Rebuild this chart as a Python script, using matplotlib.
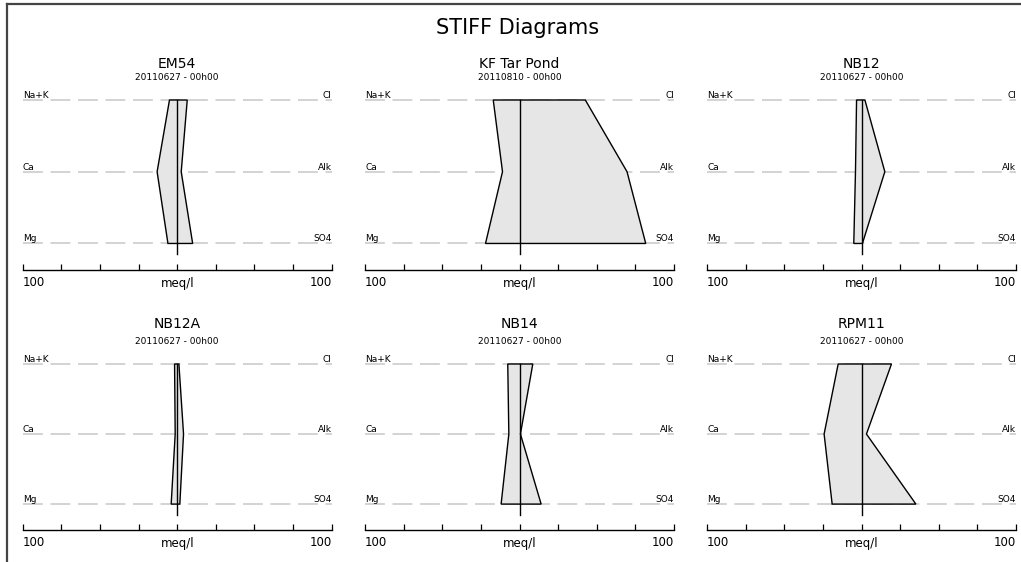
import matplotlib
matplotlib.use("Agg")
import matplotlib.pyplot as plt
from matplotlib.lines import Line2D
import numpy as np

# sample sites, sampling date and major ions (meq/l)
sites = ['EM54', 'KF Tar Pond', 'NB12', 'NB12A', 'NB14', 'RPM11']
dates = ['20110627 - 00h00', '20110810 - 00h00', '20110627 - 00h00',
         '20110627 - 00h00', '20110627 - 00h00', '20110627 - 00h00']
cation_names = ['Na+K', 'Ca', 'Mg']
anion_names = ['Cl', 'Alk', 'SO4']
cations = [[5.0, 13.0, 6.0],
           [17.0, 11.0, 22.0],
           [3.2, 3.9, 5.0],
           [1.7, 1.3, 3.9],
           [7.6, 6.9, 11.9],
           [15.1, 24.2, 19.0]]
anions = [[6.5, 2.6, 10.0],
          [42.6, 69.6, 81.7],
          [2.2, 15.1, 0.6],
          [1.1, 4.1, 1.7],
          [8.6, 0.6, 14.0],
          [19.4, 3.2, 35.2]]
xmax = 100
xticks = np.arange(-100, 101, 25)

W, H = 1021, 562
fig = plt.figure(figsize=(W / 100, H / 100), dpi=100)
fig.patch.set_facecolor('white')

# frame on the left and top
fig.add_artist(Line2D([7 / W, 7 / W], [0, 1 - 4 / H], color='#444444', lw=1.6))
fig.add_artist(Line2D([7 / W, 1], [1 - 4 / H, 1 - 4 / H], color='#444444', lw=1.6))

fig.text(518 / W, 1 - 28 / H, 'STIFF Diagrams', ha='center', va='center', fontsize=15)

col_left = [22.7, 365, 707]
col_width = 309
row_top = [100, 364]
row_bottom = [270, 530]
title_dy = [32, 36]
levels = [2, 1, 0]   # Na+K/Cl, Ca/Alk, Mg/SO4

for i, site in enumerate(sites):
    r, c = divmod(i, 3)
    x0 = col_left[c]
    ax = fig.add_axes([x0 / W, 1 - row_bottom[r] / H,
                       col_width / W, (row_bottom[r] - row_top[r]) / H])
    ax.set_xlim(-xmax, xmax)
    ax.set_ylim(-0.37, 2)

    # dashed guide lines and ion labels
    for lv, cn, an in zip(levels, cation_names, anion_names):
        ax.plot([-xmax, xmax], [lv, lv], color='#c8c8c8', lw=1.1,
                dashes=(13, 5), zorder=1, clip_on=False)
        ax.text(-xmax, lv, cn, ha='left', va='bottom', fontsize=6.5, zorder=3)
        ax.text(xmax, lv, an, ha='right', va='bottom', fontsize=6.5, zorder=3)

    # stiff polygon: cations to the left, anions to the right
    xs = [-v for v in cations[i]] + anions[i][::-1]
    ys = levels + levels[::-1]
    ax.fill(xs, ys, facecolor='#e6e6e6', edgecolor='black', lw=1.0,
            zorder=2, clip_on=False)
    ax.plot([0, 0], [2, -0.15], color='black', lw=1.0, zorder=4, clip_on=False)

    for s in ['top', 'left', 'right']:
        ax.spines[s].set_visible(False)
    ax.spines['bottom'].set_linewidth(1.0)
    ax.set_yticks([])
    ax.set_xticks(xticks)
    ax.set_xticklabels([])
    ax.tick_params(axis='x', direction='in', length=4, width=0.9)
    ax.patch.set_alpha(0)

    ax.annotate('100', xy=(0, 0), xycoords='axes fraction', xytext=(0, -13),
                textcoords='offset pixels', ha='left', va='center', fontsize=8.5)
    ax.annotate('meq/l', xy=(0.5, 0), xycoords='axes fraction', xytext=(0, -13),
                textcoords='offset pixels', ha='center', va='center', fontsize=8.5)
    ax.annotate('100', xy=(1, 0), xycoords='axes fraction', xytext=(0, -13),
                textcoords='offset pixels', ha='right', va='center', fontsize=8.5)

    ax.annotate(site, xy=(0.5, 1), xycoords='axes fraction', xytext=(0, title_dy[r]),
                textcoords='offset pixels', ha='center', va='baseline', fontsize=10)
    ax.annotate(dates[i], xy=(0.5, 1), xycoords='axes fraction', xytext=(0, 20),
                textcoords='offset pixels', ha='center', va='baseline', fontsize=6.5)

fig.savefig('out.png', dpi=100)
